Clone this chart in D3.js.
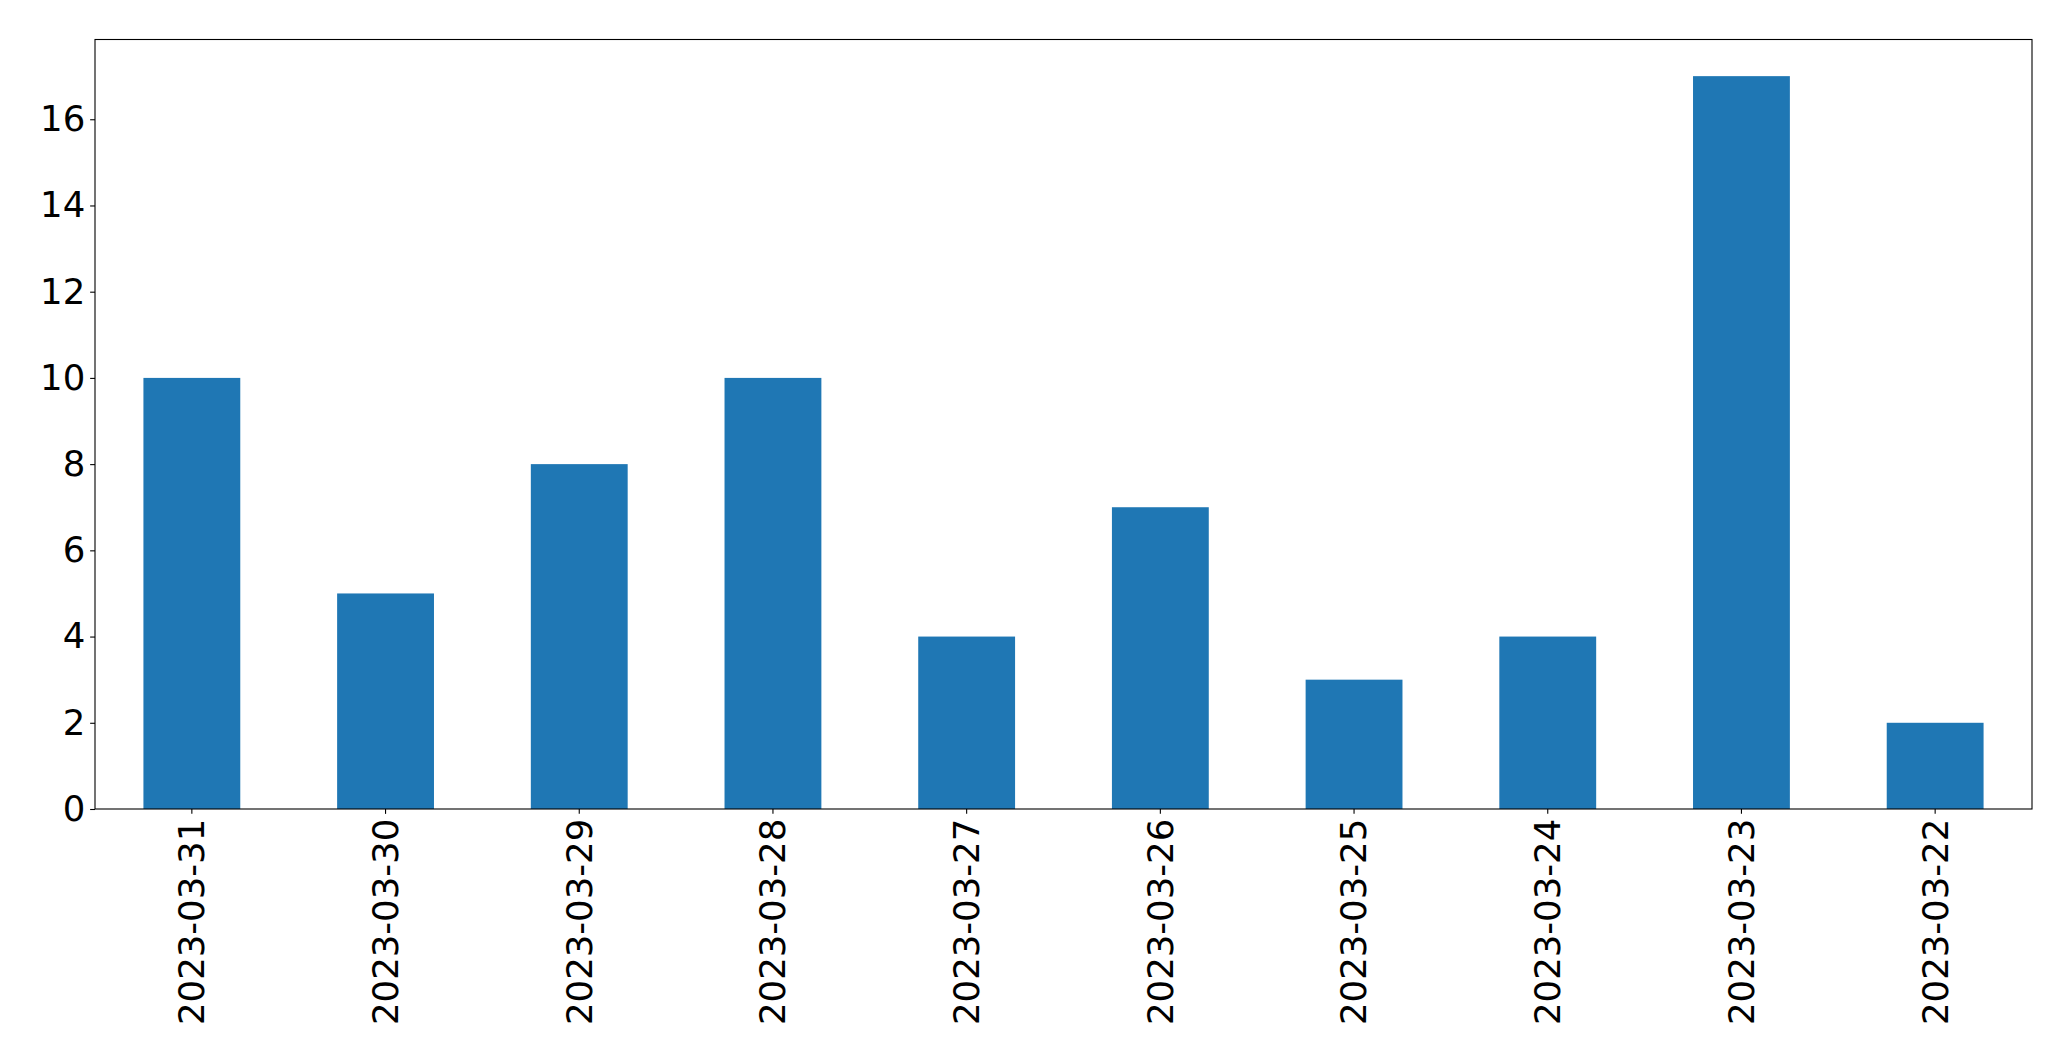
<!DOCTYPE html>
<html>
<head>
<meta charset="utf-8">
<script src="https://cdn.jsdelivr.net/npm/d3@7"></script>
<style>
html,body{margin:0;padding:0;background:#fff;}
svg{display:block;}
</style>
</head>
<body>
<script>
const categories = ["2023-03-31","2023-03-30","2023-03-29","2023-03-28","2023-03-27","2023-03-26","2023-03-25","2023-03-24","2023-03-23","2023-03-22"];
const values = [10,5,8,10,4,7,3,4,17,2];
const yTicks = [0,2,4,6,8,10,12,14,16];

const W = 2071, H = 1061;
const m = {left:95, right:2032, top:39.5, bottom:809};
const fontSize = 35.5;
const tickLen = 4.86, pad = 4.86;

const svg = d3.select("body").append("svg").attr("width", W).attr("height", H);

const x = d3.scaleBand().domain(categories).range([m.left, m.right]).paddingInner(0.5).paddingOuter(0.25);
const y = d3.scaleLinear().domain([0, d3.max(values) * 1.05]).range([m.bottom, m.top]);

svg.append("g").selectAll("rect").data(values).join("rect")
  .attr("x", (d,i) => x(categories[i]))
  .attr("width", x.bandwidth())
  .attr("y", d => y(d))
  .attr("height", d => y(0) - y(d))
  .attr("fill", "#1f77b4");

const yAxis = svg.append("g").attr("transform", `translate(${m.left},0)`)
  .call(d3.axisLeft(y).tickValues(yTicks).tickFormat(d3.format("d")).tickSize(tickLen).tickPadding(pad));
const xAxis = svg.append("g").attr("transform", `translate(0,${m.bottom})`)
  .call(d3.axisBottom(x).tickSize(tickLen).tickPadding(pad));

[yAxis, xAxis].forEach(g => {
  g.select(".domain").remove();
  g.selectAll(".tick line").attr("stroke", "#000").attr("stroke-width", 1.1);
  g.selectAll("text").attr("fill", "#000").style("font-family", "'DejaVu Sans', sans-serif").style("font-size", fontSize + "px");
});

xAxis.selectAll(".tick text")
  .attr("transform", `translate(0,${tickLen + pad}) rotate(-90)`)
  .attr("x", 0).attr("y", 0).attr("dy", "0.35em")
  .attr("text-anchor", "end");

svg.append("rect")
  .attr("x", m.left).attr("y", m.top)
  .attr("width", m.right - m.left).attr("height", m.bottom - m.top)
  .attr("fill", "none").attr("stroke", "#000").attr("stroke-width", 1.1);
</script>
</body>
</html>
